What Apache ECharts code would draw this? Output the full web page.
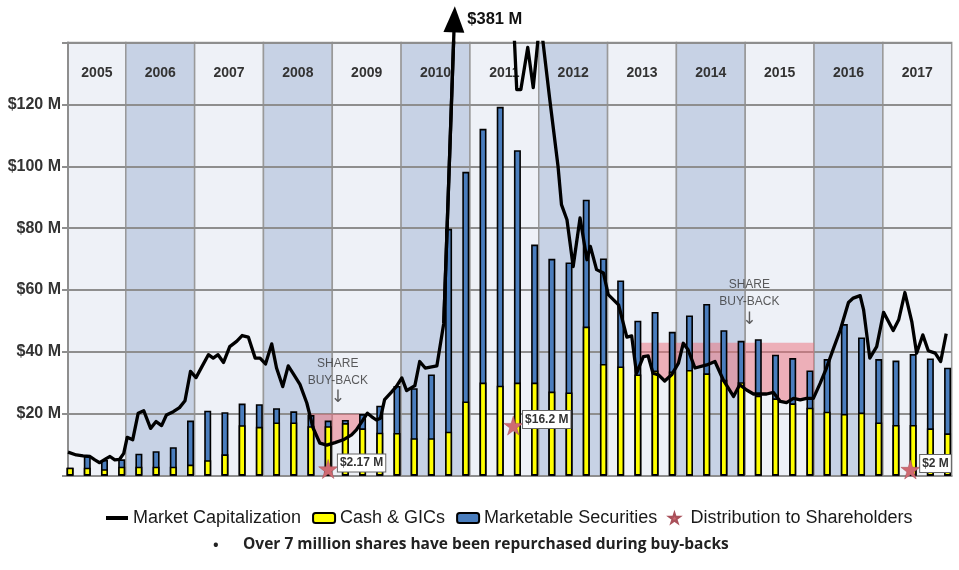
<!DOCTYPE html>
<html><head><meta charset="utf-8">
<script src="https://cdn.jsdelivr.net/npm/echarts@6/dist/echarts.min.js"></script>
<style>html,body{margin:0;padding:0;background:#fff}#c{width:959px;height:570px}</style>
</head><body><div id="c"></div>
<script>
// ---------------- DATA ----------------
const years = [2005,2006,2007,2008,2009,2010,2011,2012,2013,2014,2015,2016,2017];
const quarterLabels = years.flatMap(y => ['Q1','Q2','Q3','Q4'].map(q => y + q));

// $ millions, one value per quarter (2005Q1 .. 2017Q4)
const cashGICs = [
  2.6, 2.6, 2.1, 2.9,   2.9, 2.9, 2.9, 3.6,   5.0, 6.9, 16.3, 15.8,
  17.2, 17.2, 16.0, 16.0,   17.0, 15.3, 13.9, 13.8,   12.1, 12.1, 14.2, 24.0,
  30.1, 29.1, 30.1, 30.1,   27.2, 26.9, 48.2, 36.1,   35.3, 32.7, 34.0, 33.7,
  34.2, 33.1, 31.0, 30.2,   25.9, 25.0, 23.4, 22.0,   20.7, 20.0, 20.4, 17.2,
  16.4, 16.4, 15.3, 13.7
];
const marketableSecurities = [
  0.0, 3.8, 3.0, 2.4,   4.2, 5.0, 6.3, 14.2,   16.0, 13.6, 7.0, 7.3,
  4.6, 3.6, 3.6, 1.8,   1.0, 4.6, 8.7, 15.2,   16.2, 20.6, 65.6, 74.2,
  82.0, 90.1, 75.1, 44.6,   42.9, 42.0, 41.0, 34.1,   27.8, 17.4, 18.9, 12.8,
  17.6, 22.4, 16.0, 13.4,   18.2, 14.1, 14.6, 12.0,   17.0, 29.0, 24.3, 20.5,
  20.8, 22.9, 22.6, 21.2
];

// Market capitalization ($ millions) at decimal-year dates
const mcapDates = [
  2005.16,2005.28,2005.38,2005.48,2005.55,2005.62,2005.72,2005.77,2005.84,2005.91,2005.97,
  2006.02,2006.10,2006.18,2006.26,2006.36,2006.44,2006.52,2006.59,2006.69,2006.78,2006.86,2006.94,
  2007.02,2007.10,2007.20,2007.27,2007.34,2007.42,2007.51,2007.61,2007.69,2007.78,2007.88,2007.95,
  2008.03,2008.12,2008.19,2008.28,2008.36,2008.43,2008.53,2008.63,2008.72,2008.82,2008.92,
  2009.04,2009.16,2009.28,2009.35,2009.43,2009.51,2009.57,2009.64,2009.70,2009.76,2009.86,2009.93,
  2010.01,2010.08,2010.20,2010.27,2010.35,2010.52,2010.62,
  2011.14,2011.68,2011.74,2011.84,2011.92,
  2012.02,2012.16,2012.28,2012.33,2012.41,2012.50,2012.60,2012.70,2012.75,2012.84,2012.94,
  2013.01,2013.16,2013.28,2013.35,2013.42,2013.52,2013.59,2013.66,2013.74,2013.83,2013.93,
  2014.03,2014.10,2014.17,2014.27,2014.44,2014.56,2014.68,2014.83,2014.92,
  2015.02,2015.12,2015.22,2015.31,2015.41,2015.51,2015.60,2015.70,2015.80,2015.89,2015.99,
  2016.09,2016.18,2016.28,2016.38,2016.50,2016.57,2016.67,2016.72,2016.81,2016.91,
  2017.01,2017.15,2017.23,2017.32,2017.42,2017.49,2017.58,2017.66,2017.76,2017.84,2017.92
];
const mcapValues = [
  7.6,6.7,6.4,6.2,5.1,4.2,5.6,6.2,5.1,5.3,7.2,
  12.4,11.6,20.2,21.0,15.3,17.5,16.2,19.6,20.7,22.0,24.2,33.7,
  31.7,35.0,39.1,38.0,39.1,36.6,41.7,43.4,45.3,44.8,38.0,38.0,
  36.1,42.6,34.8,28.8,35.5,33.1,29.5,23.5,15.5,10.5,9.9,
  10.7,11.6,13.2,14.8,17.5,20.2,19.1,18.0,18.6,24.6,27.0,28.8,
  31.6,27.5,29.1,36.9,34.8,35.5,49.3,
  381,124.8,124.8,138.4,125.4,
  148,121.6,100,87.6,82.7,67.6,83.3,69.8,74.1,66.6,65.5,
  58.5,55.2,44.8,45.2,33.1,38.5,38.7,33.1,32.6,30.6,32.6,
  36.4,42.8,40.7,34.8,35.8,36.9,31.0,25.6,29.4,
  27.7,26.4,26.4,26.4,26.9,24.0,23.6,25.0,24.5,25.0,25.0,
  29.9,34.8,41.0,47.0,56.0,57.4,58.2,53.6,38.0,41.7,
  52.8,46.9,50.4,59.2,49.8,39.6,45.5,40.4,39.6,36.9,45.9
];

// Distributions to shareholders
const distDates   = [2008.94, 2011.63, 2017.40];
const distAmounts = [2.17, 16.2, 2];
const distLabels  = ['$2.17 M', '$16.2 M', '$2 M'];

// Share buy-back periods (from, to, market-cap ceiling $M, note date)
const buybackFrom  = [2008.65, 2013.47];
const buybackTo    = [2009.42, 2016.00];
const buybackLevel = [20, 43];
const buybackNote  = [2009.08, 2015.06];

const yTicks = [0, 20, 40, 60, 80, 100, 120, 140];
const yTickLabels = ['', '$20 M', '$40 M', '$60 M', '$80 M', '$100 M', '$120 M', ''];

// ---------------- CHART ----------------
const X_MIN = 2005.16, X_MAX = 2018, Y_MIN = yTicks[0], Y_MAX = yTicks[yTicks.length - 1];
const FONT = "'Liberation Sans',Arial,sans-serif";
const GRIDC = '#8e8e8e';
const NOTE_GAPS = [8, 15];

function quarterToX(label) {
  const y = +label.slice(0, 4), q = +label.slice(5);
  return y + (q - 1) * 0.25 + 0.19;
}
const barX = quarterLabels.map(quarterToX);
const totalFunds = cashGICs.map((c, i) => c + marketableSecurities[i]);
const mcap = mcapDates.map((d, i) => [d, mcapValues[i]]);

function mcapAt(x) {
  for (let i = 0; i < mcap.length - 1; i++) {
    if (x >= mcap[i][0] && x <= mcap[i + 1][0]) {
      const t = (x - mcap[i][0]) / (mcap[i + 1][0] - mcap[i][0]);
      return mcap[i][1] + t * (mcap[i + 1][1] - mcap[i][1]);
    }
  }
  return mcap[mcap.length - 1][1];
}

// arrow annotation toward the peak
const peakIdx = mcapValues.indexOf(Math.max(...mcapValues));
const pre = mcap[peakIdx - 1], peak = mcap[peakIdx];
const tipVal = Y_MAX + 7.5;
const tipX = pre[0] + (peak[0] - pre[0]) * (tipVal - pre[1]) / (peak[1] - pre[1]);

const chart = echarts.init(document.getElementById('c'), null, { renderer: 'canvas' });

const option = {
  animation: false,
  backgroundColor: '#fff',
  grid: { left: 68, right: 7.3, top: 42.5, bottom: 94.3, containLabel: false, outerBoundsMode: 'none' },
  xAxis: {
    type: 'value', min: X_MIN, max: X_MAX, z: 1,
    axisLine: { show: true, lineStyle: { color: GRIDC, width: 2 } },
    axisTick: { show: false }, axisLabel: { show: false }, splitLine: { show: false }
  },
  yAxis: {
    type: 'value', min: Y_MIN, max: Y_MAX, interval: 20, z: 1,
    axisLine: { show: true, lineStyle: { color: GRIDC, width: 2 } },
    axisTick: { show: true, length: 6, lineStyle: { color: GRIDC, width: 2 } },
    splitLine: { show: true, lineStyle: { color: GRIDC, width: 2 } },
    axisLabel: {
      margin: 7, color: '#333', fontSize: 16, fontWeight: 'bold', fontFamily: FONT,
      formatter: v => yTickLabels[yTicks.indexOf(v)] || ''
    }
  },
  legend: {
    left: 101, top: 504, itemWidth: 22, itemHeight: 10, itemGap: 11,
    textStyle: { fontSize: 18, fontFamily: FONT, color: '#1a1a1a' },
    data: [
      { name: 'Market Capitalization', icon: 'path://M0,0H44V8H0Z' },
      { name: 'Cash & GICs', icon: 'roundRect' },
      { name: 'Marketable Securities', icon: 'roundRect' },
      { name: 'Distribution to Shareholders' }
    ]
  },
  graphic: [
    { type: 'text', left: 213, top: 538, style: { text: '•', fontSize: 15, fontWeight: 'bold', fontFamily: "'Open Sans',sans-serif", fill: '#222' } },
    { type: 'text', left: 243, top: 537, style: { text: 'Over 7 million shares have been repurchased during buy-backs', fontSize: 15.5, fontWeight: 'bold', fontFamily: "'Open Sans',sans-serif", fill: '#222' } }
  ],
  series: [
    {
      name: 'bands', type: 'custom', z: 0, silent: true,
      data: years.map(y => [y, 0]),
      encode: { x: 0, y: 1 },
      renderItem(params, api) {
        const y0 = api.value(0);
        const xs = Math.max(y0, X_MIN), xe = Math.min(y0 + 1, X_MAX);
        const p0 = api.coord([xs, Y_MAX]);
        const p1 = api.coord([xe, Y_MIN]);
        const mid = api.coord([(xs + xe) / 2, Y_MAX - 10]);
        return {
          type: 'group', children: [
            { type: 'rect', shape: { x: p0[0], y: p0[1], width: p1[0] - p0[0], height: p1[1] - p0[1] },
              style: { fill: params.dataIndex % 2 ? '#c7d2e5' : '#eef1f7', stroke: '#999', lineWidth: 1.5 } },
            { type: 'text', style: { text: String(y0), x: mid[0], y: mid[1], align: 'center', verticalAlign: 'middle',
              fill: '#333', fontSize: 14, fontWeight: 'bold', fontFamily: FONT } }
          ]
        };
      }
    },
    {
      name: 'buyback', type: 'custom', z: 2, silent: true,
      data: buybackFrom.map((f, i) => [f, buybackLevel[i], buybackTo[i]]),
      encode: { x: 0, y: 1 },
      renderItem(params, api) {
        const i = params.dataIndex;
        const from = buybackFrom[i], to = buybackTo[i], lvl = buybackLevel[i];
        const pts = [api.coord([from, lvl]), api.coord([to, lvl])];
        const bottom = [[to, Math.min(mcapAt(to), lvl)]];
        for (let k = mcap.length - 1; k >= 0; k--) {
          if (mcap[k][0] > from && mcap[k][0] < to) bottom.push([mcap[k][0], Math.min(mcap[k][1], lvl)]);
        }
        bottom.push([from, Math.min(mcapAt(from), lvl)]);
        bottom.forEach(b => pts.push(api.coord(b)));
        return { type: 'polygon', shape: { points: pts }, style: { fill: 'rgba(235,110,122,0.5)' } };
      }
    },
    {
      name: 'Marketable Securities', type: 'bar', z: 3, barWidth: 7, barGap: '-100%',
      data: barX.map((x, i) => [x, totalFunds[i]]),
      itemStyle: { color: '#4a7dbd', borderColor: '#000', borderWidth: 1.6 }
    },
    {
      name: 'Cash & GICs', type: 'bar', z: 3, barWidth: 7, barGap: '-100%',
      data: barX.map((x, i) => [x, cashGICs[i]]),
      itemStyle: { color: '#ffff00', borderColor: '#000', borderWidth: 1.6 }
    },
    {
      name: 'Market Capitalization', type: 'line', z: 4, clip: true,
      data: mcap, symbol: 'none', smooth: false,
      lineStyle: { color: '#000', width: 3.3, join: 'round' }, itemStyle: { color: '#000' }
    },
    {
      name: 'peakArrow', type: 'line', z: 4, clip: false, silent: true,
      data: [
        { value: pre, symbol: 'none' },
        { value: [tipX, tipVal], symbol: 'triangle', symbolSize: [21, 26], symbolRotate: -2,
          label: { show: true, position: 'right', distance: 2, formatter: '$' + peak[1] + ' M',
            fontSize: 16.5, fontWeight: 'bold', fontFamily: FONT, color: '#111' } }
      ],
      lineStyle: { color: '#000', width: 3.3 }, itemStyle: { color: '#000' }
    },
    {
      name: 'Distribution to Shareholders', type: 'scatter', z: 6, zlevel: 0,
      symbol: 'path://M50,0 L61,35 L98,35 L68,57 L79,91 L50,70 L21,91 L32,57 L2,35 L39,35 Z',
      symbolSize: 19,
      data: distDates.map((d, i) => [d, distAmounts[i]]),
      itemStyle: { color: '#cf6a72', borderColor: '#a9505a', borderWidth: 0.5, opacity: 1 },
      label: {
        show: true, position: 'right', distance: 0, offset: [0, -6],
        formatter: p => distLabels[p.dataIndex],
        backgroundColor: '#fff', borderColor: '#666', borderWidth: 1, padding: [3, 2, 2, 2],
        fontSize: 12, fontWeight: 'bold', fontFamily: FONT, color: '#333'
      }
    },
    {
      name: 'buybackNotes', type: 'scatter', z: 5, silent: true, symbolSize: 0,
      data: buybackNote.map((d, i) => ({ value: [d, buybackLevel[i]], label: { distance: NOTE_GAPS[i] } })),
      label: {
        show: true, position: 'top',
        formatter: 'SHARE\nBUY-BACK\n{a|↓}', align: 'center', lineHeight: 17,
        fontSize: 12, fontFamily: FONT, color: '#333',
        rich: { a: { fontSize: 17, lineHeight: 17, color: '#333', fontFamily: "'DejaVu Sans',sans-serif" } }
      }
    }
  ]
};
chart.setOption(option);
</script>
</body></html>
